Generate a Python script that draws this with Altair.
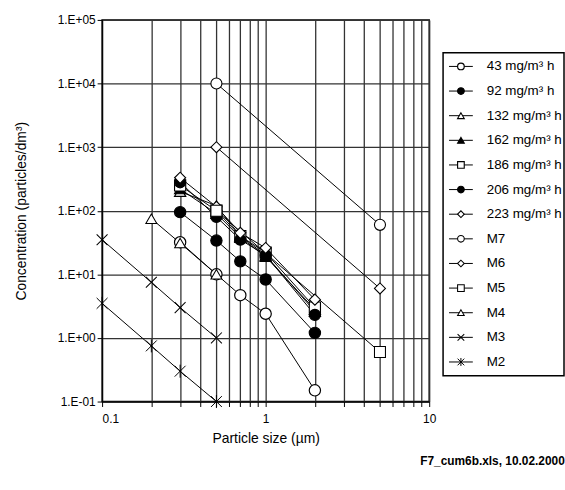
import altair as alt
import pandas as pd

FONT = "Liberation Sans"

series = ["43 mg/m³ h", "92 mg/m³ h", "132 mg/m³ h", "162 mg/m³ h", "186 mg/m³ h",
          "206 mg/m³ h", "223 mg/m³ h", "M7", "M6", "M5", "M4", "M3", "M2"]

# measured series (particle size in µm)
size_meas = [0.3, 0.5, 0.7, 1, 2]
c43 = [32, 10, 4.7, 2.4, 0.15]
c92 = [95, 34, 16, 8.3, 1.2]
c132 = [200, 120, 40, 20, 2.6]
c162 = [220, 90, 38, 19, 2.8]
c186 = [250, 100, 40, 22, 3.0]
c206 = [280, 80, 35, 20, 2.3]
c223 = [330, 115, 45, 26, 4.0]

# model lines
m7_x = [0.5, 5]
m7_y = [10000, 60]
m6_x = [0.5, 5]
m6_y = [1000, 6]
m5_x = [0.5, 5]
m5_y = [100, 0.6]
m4_x = [0.2, 0.3, 0.5]
m4_y = [75, 31, 10]
m3_x = [0.1, 0.2, 0.3, 0.5]
m3_y = [35, 7.5, 3, 1]
m2_x = [0.1, 0.2, 0.3, 0.5]
m2_y = [3.5, 0.75, 0.3, 0.1]

x_grid = [0.1, 0.2, 0.3, 0.4, 0.5, 0.6, 0.7, 0.8, 0.9, 1, 2, 3, 4, 5, 6, 7, 8, 9, 10]
y_ticks = [0.1, 1, 10, 100, 1000, 10000, 100000]

XCROSS = "M-1,-1L1,1M-1,1L1,-1"
ASTER = "M-1,-1L1,1M-1,1L1,-1M0,-1.2L0,1.2"
shapes = ["circle", "circle", "triangle-up", "triangle-up", "square", "circle", "diamond",
          "circle", "diamond", "square", "triangle-up", XCROSS, ASTER]
fills = ["white", "black", "white", "black", "white", "black", "white",
         "white", "white", "white", "white", "black", "black"]
sizes = [130, 120, 80, 80, 70, 100, 60, 45, 40, 45, 50, 50, 50]
leg_sizes = [45, 45, 45, 45, 40, 55, 30, 45, 30, 40, 45, 45, 45]
widths = [1.2, 1, 1, 1, 1, 1, 1, 1, 1, 1, 1, 1.6, 1.6]

xs = [size_meas] * 7 + [m7_x, m6_x, m5_x, m4_x, m3_x, m2_x]
ys = [c43, c92, c132, c162, c186, c206, c223, m7_y, m6_y, m5_y, m4_y, m3_y, m2_y]
rows = []
for i, (name, xv, yv) in enumerate(zip(series, xs, ys)):
    for a, b in zip(xv, yv):
        rows.append({"series": name, "idx": i, "x": a, "y": b})
df = pd.DataFrame(rows)

shape_sc = alt.Scale(domain=series, range=shapes)
fill_sc = alt.Scale(domain=series, range=fills)
width_sc = alt.Scale(domain=series, range=widths)

xenc = alt.X("x:Q", scale=alt.Scale(type="log", domain=[0.1, 10]),
             axis=alt.Axis(values=x_grid, title="Particle size (µm)",
                           labelExpr="(datum.value == 0.1 || datum.value == 1 || datum.value == 10) ? '' + datum.value : ''",
                           labelOverlap=False, grid=True, tickSize=5, labelPadding=7,
                           labelAlign={"expr": "datum.value < 0.15 ? 'left' : 'center'"},
                           titlePadding=7))
yenc = alt.Y("y:Q", scale=alt.Scale(type="log", domain=[0.1, 100000]),
             axis=alt.Axis(values=y_ticks, title="Concentration (particles/dm³)",
                           labelExpr="'1.E' + (datum.value >= 1 ? '+' : '-') + '0' + abs(round(log(datum.value) / LN10))",
                           labelOverlap=False, grid=True, tickSize=5, labelPadding=2,
                           titlePadding=29))

base = alt.Chart(df).encode(x=xenc, y=yenc)
lines = base.mark_line(color="black", strokeWidth=1).encode(detail="series:N", order="x:Q")
points = base.mark_point(stroke="black", opacity=1, fillOpacity=1).encode(
    shape=alt.Shape("series:N", scale=shape_sc, legend=None),
    fill=alt.Fill("series:N", scale=fill_sc, legend=None),
    size=alt.Size("series:N", scale=alt.Scale(domain=series, range=sizes), legend=None),
    strokeWidth=alt.StrokeWidth("series:N", scale=width_sc, legend=None),
    order=alt.Order("idx:Q"),
)
main = alt.layer(lines, points).properties(width=330, height=385)

leg_df = pd.DataFrame({"series": series})
lbase = alt.Chart(leg_df).encode(
    y=alt.Y("series:N", sort=series,
            scale=alt.Scale(type="point", domain=series, padding=0.56), axis=None))
lrule = lbase.mark_rule(color="black", strokeWidth=1).encode(x=alt.value(6), x2=alt.value(30))
lpt = lbase.mark_point(stroke="black", opacity=1, fillOpacity=1).encode(
    x=alt.value(18),
    shape=alt.Shape("series:N", scale=shape_sc, legend=None),
    fill=alt.Fill("series:N", scale=fill_sc, legend=None),
    size=alt.Size("series:N", scale=alt.Scale(domain=series, range=leg_sizes), legend=None),
    strokeWidth=alt.StrokeWidth("series:N", scale=width_sc, legend=None),
)
ltxt = lbase.mark_text(align="left", baseline="middle", fontSize=13.5, font=FONT, color="black").encode(
    x=alt.value(44), text="series:N")
legend = alt.layer(lrule, lpt, ltxt).properties(width=122, height=326)

spacer = alt.Chart(pd.DataFrame({"t": [""]})).mark_text().encode(text="t:N").properties(
    width=122, height=32, view=alt.ViewBackground(stroke=None))

right = alt.vconcat(spacer, legend, spacing=0)

chart = alt.hconcat(main, right, spacing=5).resolve_scale(
    x="independent", y="independent", shape="independent", fill="independent",
    size="independent", strokeWidth="independent"
).properties(
    title=alt.TitleParams("F7_cum6b.xls, 10.02.2000", orient="bottom", anchor="end",
                          fontSize=12, fontWeight="bold", font=FONT, color="black", offset=10),
    padding={"left": 13, "top": 11, "right": 0, "bottom": 5},
    background="white",
).configure_view(stroke="black", strokeWidth=1.5).configure_axis(
    gridColor="#333", gridWidth=1.3, gridOpacity=1, domainColor="black", tickColor="black",
    labelFont=FONT, titleFont=FONT, labelFontSize=12, titleFontSize=14,
    titleFontWeight="normal", labelColor="black", titleColor="black",
)

chart.save("out.html", embed_options={"renderer": "svg", "actions": False})
